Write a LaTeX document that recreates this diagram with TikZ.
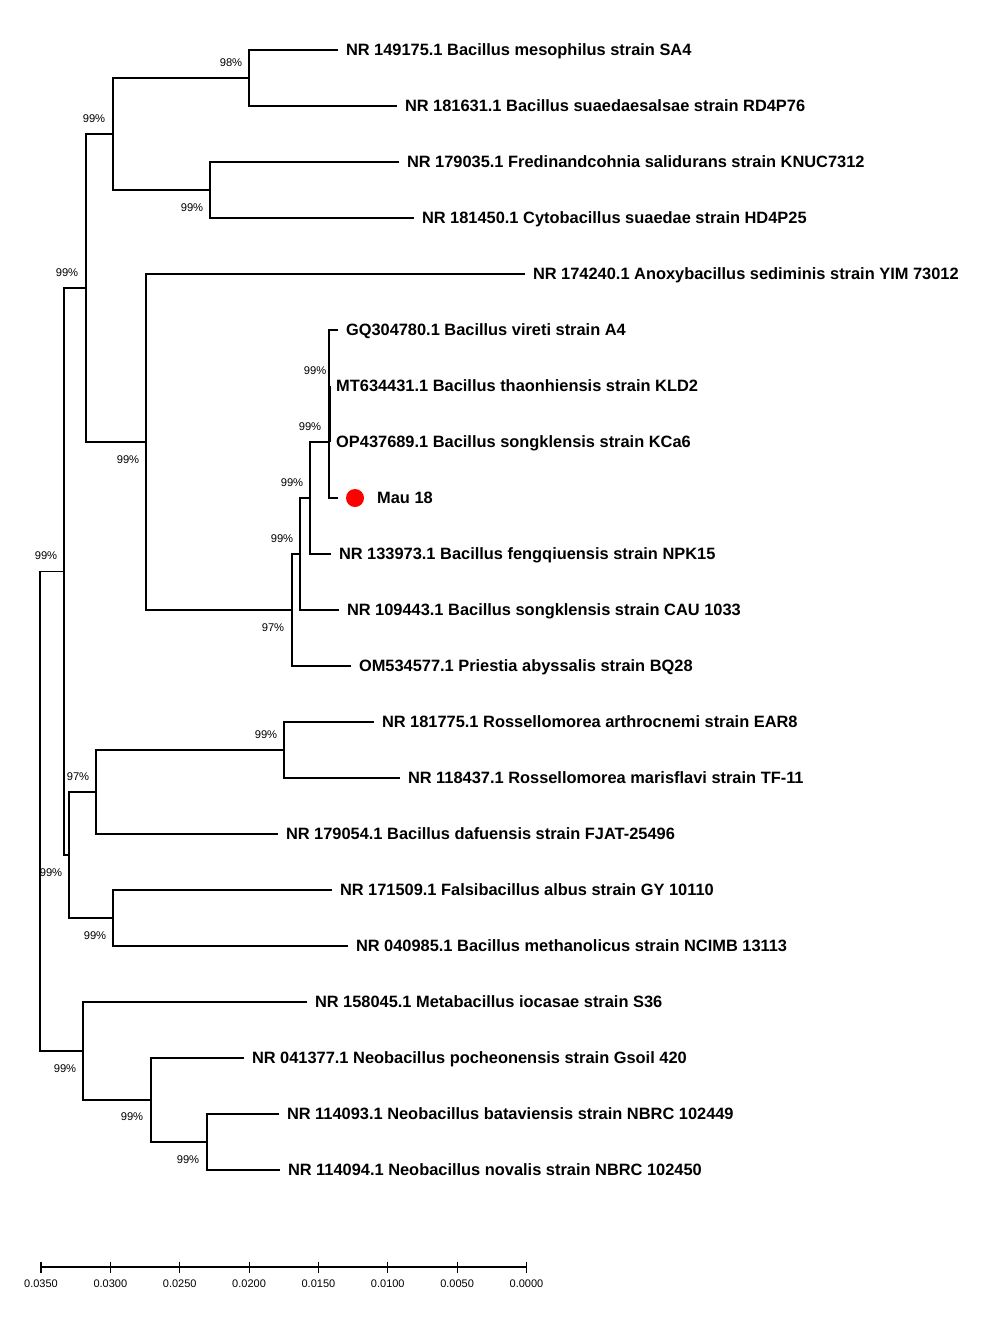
\documentclass[tikz,border=0pt]{standalone}
\usepackage{fontspec}
\setmainfont{Liberation Sans}
\usetikzlibrary{calc}
\begin{document}
\begin{tikzpicture}[x=1pt,y=-1pt,
  branch/.style={line width=1.1pt,black},
  leaf/.style={anchor=base west,inner sep=0pt,font=\fontsize{16.4}{19}\selectfont\bfseries,xshift=7.8pt,yshift=-5pt},
  boot/.style={anchor=center,inner sep=0pt,font=\fontsize{11.2}{13}\selectfont},
  ticklab/.style={anchor=center,inner sep=0pt,font=\fontsize{11}{13}\selectfont},
  dot/.style={circle,fill=red,draw=none,minimum size=18pt,inner sep=0pt}]
\useasboundingbox (0,0) rectangle (992,1328);
% leaf tips
\coordinate (e0) at (338,50);
\coordinate (e1) at (397,106);
\coordinate (e2) at (399,162);
\coordinate (e3) at (414,218);
\coordinate (e4) at (525,274);
\coordinate (e5) at (338,330);
\coordinate (e6) at (330,386);
\coordinate (e7) at (330,442);
\coordinate (e8) at (338,498);
\coordinate (e9) at (331,554);
\coordinate (e10) at (339,610);
\coordinate (e11) at (351,666);
\coordinate (e12) at (374,722);
\coordinate (e13) at (400,778);
\coordinate (e14) at (278,834);
\coordinate (e15) at (332,890);
\coordinate (e16) at (348,946);
\coordinate (e17) at (307,1002);
\coordinate (e18) at (244,1058);
\coordinate (e19) at (279,1114);
\coordinate (e20) at (280,1170);
% internal nodes
\coordinate (A) at (249,78);
\coordinate (B) at (210,190);
\coordinate (C) at (113,134);
\coordinate (D) at (329,442);
\coordinate (E) at (310,498);
\coordinate (F) at (300,554);
\coordinate (G) at (292,610);
\coordinate (H) at (146,442);
\coordinate (I) at (86,288);
\coordinate (P) at (284,750);
\coordinate (M) at (96,792);
\coordinate (N) at (113,918);
\coordinate (K) at (69,855);
\coordinate (J) at (64,571.5);
\coordinate (T) at (207,1142);
\coordinate (S) at (151,1100);
\coordinate (Q) at (83,1051);
\coordinate (R) at (40,811);
% branches
\draw[branch] (e0) -| (A) |- (e1);
\draw[branch] (e2) -| (B) |- (e3);
\draw[branch] (A) -| (C) |- (B);
\draw[branch] (e5) -| (D) |- (e8);
\draw[branch] (e6) -- (e7);
\draw[branch] (D) -| (E) |- (e9);
\draw[branch] (E) -| (F) |- (e10);
\draw[branch] (F) -| (G) |- (e11);
\draw[branch] (e4) -| (H) |- (G);
\draw[branch] (C) -| (I) |- (H);
\draw[branch] (e12) -| (P) |- (e13);
\draw[branch] (P) -| (M) |- (e14);
\draw[branch] (e15) -| (N) |- (e16);
\draw[branch] (M) -| (K) |- (N);
\draw[branch] (I) -| (J) |- (K);
\draw[branch] (e19) -| (T) |- (e20);
\draw[branch] (e18) -| (S) |- (T);
\draw[branch] (e17) -| (Q) |- (S);
\draw[branch] (J) -| (R) |- (Q);
% leaf labels
\node[leaf] (t0) at (e0) {NR 149175.1 Bacillus mesophilus strain SA4};
\node[leaf] (t1) at (e1) {NR 181631.1 Bacillus suaedaesalsae strain RD4P76};
\node[leaf] (t2) at (e2) {NR 179035.1 Fredinandcohnia salidurans strain KNUC7312};
\node[leaf] (t3) at (e3) {NR 181450.1 Cytobacillus suaedae strain HD4P25};
\node[leaf] (t4) at (e4) {NR 174240.1 Anoxybacillus sediminis strain YIM 73012};
\node[leaf] (t5) at (e5) {GQ304780.1 Bacillus vireti strain A4};
\node[leaf,xshift=-1.8pt] (t6) at (e6) {MT634431.1 Bacillus thaonhiensis strain KLD2};
\node[leaf,xshift=-1.8pt] (t7) at (e7) {OP437689.1 Bacillus songklensis strain KCa6};
\node[dot] (mdot) at (355,498) {};
\node[leaf,xshift=-7.8pt] (t8) at (377,498) {Mau 18};
\node[leaf] (t9) at (e9) {NR 133973.1 Bacillus fengqiuensis strain NPK15};
\node[leaf] (t10) at (e10) {NR 109443.1 Bacillus songklensis strain CAU 1033};
\node[leaf] (t11) at (e11) {OM534577.1 Priestia abyssalis strain BQ28};
\node[leaf] (t12) at (e12) {NR 181775.1 Rossellomorea arthrocnemi strain EAR8};
\node[leaf] (t13) at (e13) {NR 118437.1 Rossellomorea marisflavi strain TF-11};
\node[leaf] (t14) at (e14) {NR 179054.1 Bacillus dafuensis strain FJAT-25496};
\node[leaf] (t15) at (e15) {NR 171509.1 Falsibacillus albus strain GY 10110};
\node[leaf] (t16) at (e16) {NR 040985.1 Bacillus methanolicus strain NCIMB 13113};
\node[leaf] (t17) at (e17) {NR 158045.1 Metabacillus iocasae strain S36};
\node[leaf] (t18) at (e18) {NR 041377.1 Neobacillus pocheonensis strain Gsoil 420};
\node[leaf] (t19) at (e19) {NR 114093.1 Neobacillus bataviensis strain NBRC 102449};
\node[leaf] (t20) at (e20) {NR 114094.1 Neobacillus novalis strain NBRC 102450};
% bootstrap values
\node[boot] (bA) at (231,63) {98\%};
\node[boot] (bC) at (94,119) {99\%};
\node[boot] (bB) at (192,208) {99\%};
\node[boot] (bI) at (67,273) {99\%};
\node[boot] (bD1) at (315,371) {99\%};
\node[boot] (bD2) at (310,427) {99\%};
\node[boot] (bE) at (292,483) {99\%};
\node[boot] (bF) at (282,539) {99\%};
\node[boot] (bH) at (128,460) {99\%};
\node[boot] (bG) at (273,628) {97\%};
\node[boot] (bJ) at (46,556) {99\%};
\node[boot] (bP) at (266,735) {99\%};
\node[boot] (bM) at (78,777) {97\%};
\node[boot] (bK) at (51,873) {99\%};
\node[boot] (bN) at (95,936) {99\%};
\node[boot] (bQ) at (65,1069) {99\%};
\node[boot] (bS) at (132,1117) {99\%};
\node[boot] (bT) at (188,1160) {99\%};
% scale bar
\coordinate (s0) at (41,1267);
\coordinate (s7) at (526.5,1267);
\draw[branch] (s0) -- (s7);
\foreach \i/\lab in {0/0.0350,1/0.0300,2/0.0250,3/0.0200,4/0.0150,5/0.0100,6/0.0050,7/0.0000}{
  \coordinate (k\i) at ($(s0)!\i/7!(s7)$);
  \draw[branch] ([yshift=5.5pt]k\i) -- ([yshift=-5.5pt]k\i);
  \node[ticklab] (kl\i) at ([yshift=-17pt]k\i) {\lab};
}
\end{tikzpicture}
\end{document}
